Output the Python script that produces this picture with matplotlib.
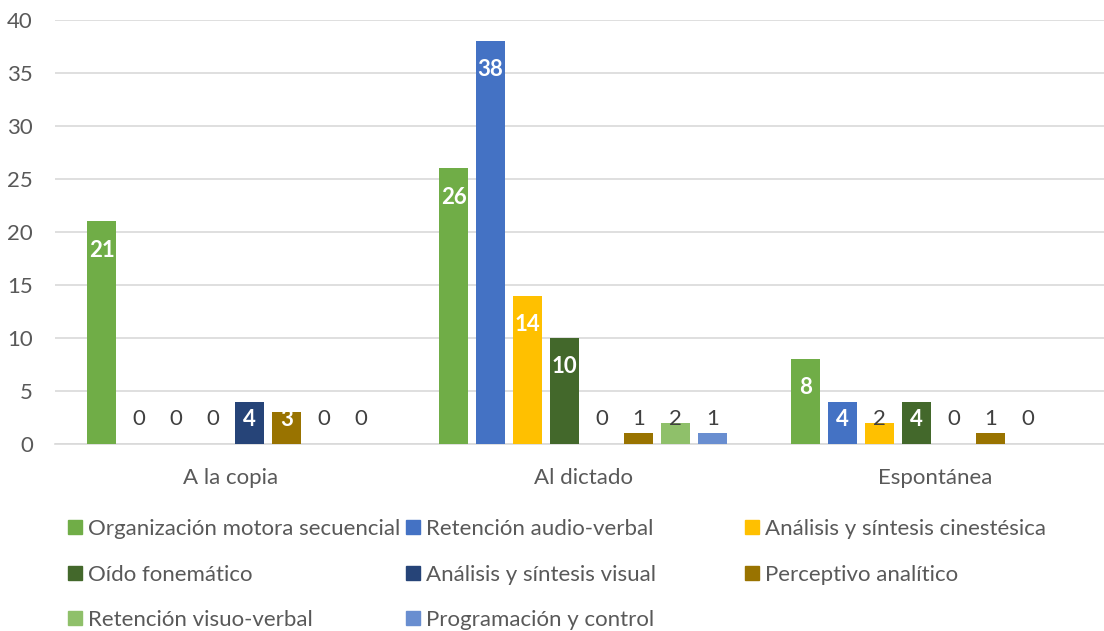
import numpy as np
import matplotlib.pyplot as plt
from matplotlib.patches import Rectangle

plt.rcParams['font.family'] = ['Lato', 'DejaVu Sans']

categories = ["A la copia", "Al dictado", "Espontánea"]
series = [
    "Organización motora secuencial",
    "Retención audio-verbal",
    "Análisis y síntesis cinestésica",
    "Oído fonemático",
    "Análisis y síntesis visual",
    "Perceptivo analítico",
    "Retención visuo-verbal",
    "Programación y control",
]
colors = ["#70AD47", "#4472C4", "#FFC000", "#43682B",
          "#264478", "#997300", "#8FC06A", "#698ED0"]

org_motora = [21, 26, 8]
ret_audio = [0, 38, 4]
cinestesica = [0, 14, 2]
oido = [0, 10, 4]
sint_visual = [4, 0, 0]
perceptivo = [3, 1, 1]
ret_visuo = [0, 2, 0]
programacion = [0, 1, np.nan]

values = [org_motora, ret_audio, cinestesica, oido,
          sint_visual, perceptivo, ret_visuo, programacion]

W, H = 1104, 631
fs = 16
fig = plt.figure(figsize=(W / 100, H / 100), dpi=100)
ax = fig.add_axes([55 / W, 1 - 444 / H, 1056 / W, 424 / H])

x = np.arange(len(categories))
step = 0.105
width = 0.083
grey = "#595959"

for i, (name, vals, c) in enumerate(zip(series, values, colors)):
    pos = x + (i - 3.5) * step
    ax.bar(pos, vals, width, color=c, zorder=3)
    for px, v in zip(pos, vals):
        if np.isnan(v):
            continue
        ty = max(v - 2.7, 2.35)
        if v >= 3:
            ax.text(px, ty, f"{v:g}", ha="center", va="center",
                    color="white", fontweight="bold", fontsize=fs, zorder=4)
        else:
            ax.text(px, ty, f"{v:g}", ha="center", va="center",
                    color="#404040", fontsize=fs, zorder=4)

ax.set_xlim(-0.5, 2.5)
ax.set_ylim(0, 40)
ax.set_yticks(range(0, 41, 5))
ax.set_xticks(x)
ax.set_xticklabels(categories)
ax.tick_params(axis="both", length=0, labelsize=fs, labelcolor=grey)
ax.tick_params(axis="x", pad=17)
ax.tick_params(axis="y", pad=16)
ax.grid(axis="y", color="#D9D9D9", linewidth=1.2, zorder=0)
for s in ["top", "right", "left"]:
    ax.spines[s].set_visible(False)
ax.spines["bottom"].set_color("#D9D9D9")
ax.spines["bottom"].set_linewidth(1.2)

# legend: three fixed-width columns, filled row by row
col_x = [68, 406, 745]
row_y = [527, 573, 618]
for k, (name, c) in enumerate(zip(series, colors)):
    r, col = divmod(k, 3)
    mx, my = col_x[col], row_y[r]
    fig.patches.append(Rectangle((mx / W, 1 - (my + 7) / H), 14 / W, 14 / H,
                                 transform=fig.transFigure, color=c))
    fig.text((mx + 20) / W, 1 - my / H, name, ha="left", va="center_baseline",
             fontsize=fs, color=grey)

fig.savefig("out.png", dpi=100)
